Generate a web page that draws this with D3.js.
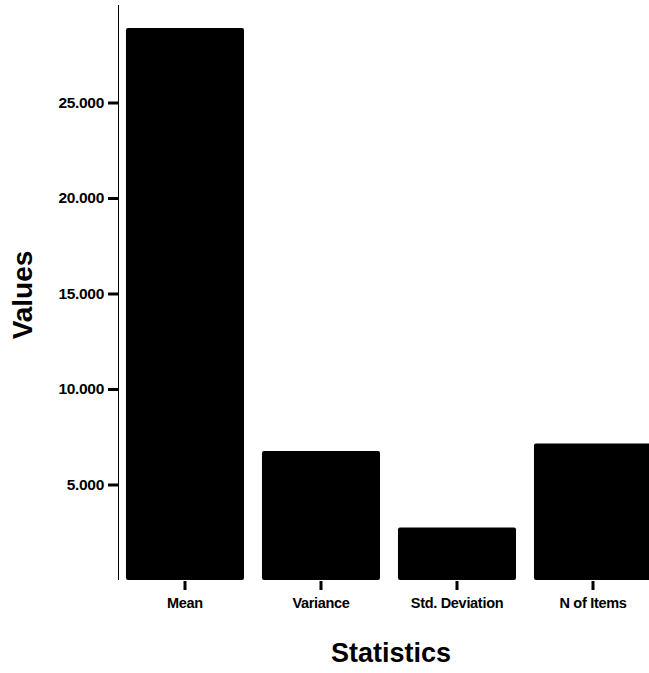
<!DOCTYPE html>
<html>
<head>
<meta charset="utf-8">
<script src="https://cdn.jsdelivr.net/npm/d3@7/dist/d3.min.js"></script>
<style>
  html, body { margin: 0; padding: 0; background: #fff; }
  svg { display: block; }
  text { font-family: "Liberation Sans", Arial, sans-serif; font-weight: bold; fill: #000; }
</style>
</head>
<body>
<svg id="chart" width="649" height="673"></svg>
<script>
const categories = ["Mean", "Variance", "Std. Deviation", "N of Items"];
const values = [28.9, 6.75, 2.75, 7.15];
const yTicks = [5, 10, 15, 20, 25];
const yTickLabels = ["5.000", "10.000", "15.000", "20.000", "25.000"];
const xTitle = "Statistics";
const yTitle = "Values";

const svg = d3.select("#chart");

const x = d3.scaleBand()
  .domain(categories)
  .range([117, 661])
  .paddingInner(0.132)
  .paddingOuter(0.066);

const y = d3.scaleLinear()
  .domain([0, 30])
  .range([580, 7]);

// bars
svg.append("g")
  .selectAll("rect")
  .data(values)
  .join("rect")
  .attr("x", (d, i) => x(categories[i]))
  .attr("y", d => y(d))
  .attr("width", x.bandwidth())
  .attr("height", d => y(0) - y(d))
  .attr("rx", 2)
  .attr("fill", "#000");

// y axis
const yAxis = d3.axisLeft(y)
  .tickValues(yTicks)
  .tickFormat((d, i) => yTickLabels[i])
  .tickSize(10)
  .tickPadding(4);

const gy = svg.append("g")
  .attr("transform", "translate(118,0)")
  .call(yAxis);
gy.select(".domain").remove();
gy.selectAll(".tick line").attr("stroke", "#000").attr("stroke-width", 3);
gy.selectAll(".tick text")
  .style("font-size", "15.5px")
  .style("font-family", "'Liberation Sans', Arial, sans-serif")
  .style("font-weight", "bold")
  .style("letter-spacing", "-0.3px")
  .attr("fill", "#000");

// y axis line
svg.append("line")
  .attr("x1", 118.5).attr("x2", 118.5)
  .attr("y1", y(30) - 2).attr("y2", y(0))
  .attr("stroke", "#000")
  .attr("stroke-width", 1);

// x axis
const xAxis = d3.axisBottom(x)
  .tickSize(9)
  .tickPadding(8);

const gx = svg.append("g")
  .attr("transform", "translate(0,581)")
  .call(xAxis);
gx.select(".domain").remove();
gx.selectAll(".tick line").attr("stroke", "#000").attr("stroke-width", 3);
gx.selectAll(".tick text")
  .style("font-size", "14.5px")
  .style("font-family", "'Liberation Sans', Arial, sans-serif")
  .style("font-weight", "bold")
  .style("letter-spacing", "-0.3px")
  .attr("fill", "#000");

// axis titles
svg.append("text")
  .attr("x", 391)
  .attr("y", 662)
  .attr("text-anchor", "middle")
  .style("font-size", "27px")
  .text(xTitle);

svg.append("text")
  .attr("transform", "translate(32,295) rotate(-90)")
  .attr("text-anchor", "middle")
  .style("font-size", "28px")
  .text(yTitle);
</script>
</body>
</html>
